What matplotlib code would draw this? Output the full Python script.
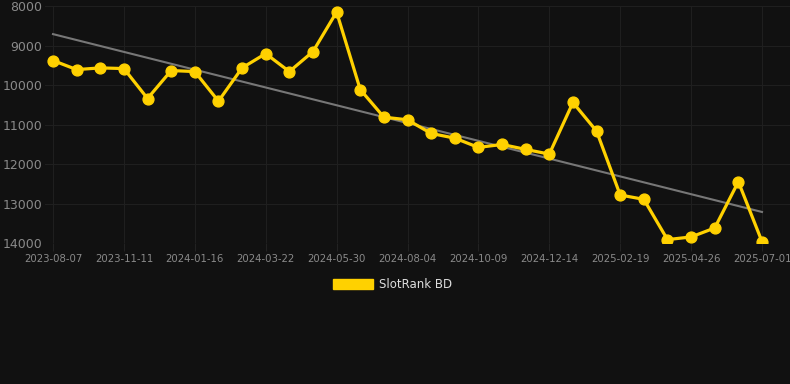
import numpy as np
import matplotlib
matplotlib.use('Agg')
import matplotlib.pyplot as plt
from matplotlib.patches import Rectangle

# ranks (inverted axis: lower rank is better)
dates = ['2023-08-07', '', '', '2023-11-11', '', '', '2024-01-16', '', '', '2024-03-22', '', '',
         '2024-05-30', '', '', '2024-08-04', '', '', '2024-10-09', '', '', '2024-12-14', '', '',
         '2025-02-19', '', '', '2025-04-26', '', '', '2025-07-01']
rank = [9380, 9610, 9567, 9584, 10342, 9634, 9660, 10410, 9567, 9205, 9660, 9154,
        8152, 10115, 10814, 10881, 11227, 11345, 11580, 11505, 11631, 11749,
        10443, 11168, 12785, 12895, 13914, 13847, 13619, 12448, 13965]
series_name = 'SlotRank BD'
y_ticks = [8000, 9000, 10000, 11000, 12000, 13000, 14000]

BG = '#111111'
GOLD = '#FFD100'
W, H = 790, 384

fig = plt.figure(figsize=(W / 100, H / 100), dpi=100, facecolor=BG)
ax = fig.add_axes([45 / W, (H - 243) / H, (790 - 45) / W, (243 - 6) / H], facecolor=BG)

x = np.arange(len(rank))
coef = np.polyfit(x, rank, 1)
ax.plot(x, np.polyval(coef, x), color='#777777', lw=1.5, zorder=2)
ax.plot(x, rank, color=GOLD, lw=2.3, marker='o', ms=7.8, zorder=3)

step = (762 - 53) / 30
ax.set_xlim(-8 / step, (790 - 53) / step)
ax.set_ylim(14000, 8000)
ax.set_yticks(y_ticks)
ax.set_yticklabels([str(v) for v in y_ticks])
tick_idx = [i for i, d in enumerate(dates) if d]
ax.set_xticks(tick_idx)
ax.set_xticklabels([dates[i] for i in tick_idx])

ax.grid(True, color='#1f1f1f', lw=0.8)
for s in ax.spines.values():
    s.set_visible(False)
ax.tick_params(axis='y', colors='#222222', labelcolor='#8a8a8a', labelsize=9, length=0, pad=2)
ax.tick_params(axis='x', colors='#222222', labelcolor='#8a8a8a', labelsize=7.3, length=6, pad=2)

# legend drawn by hand like the web chart
fig.patches.append(Rectangle((333 / W, (H - 289) / H), 40 / W, 10 / H,
                             transform=fig.transFigure, color=GOLD))
fig.text(379 / W, (H - 284) / H, series_name, color='#dddddd', fontsize=8.5, va='center')

fig.savefig('out.png', dpi=100, facecolor=BG)
